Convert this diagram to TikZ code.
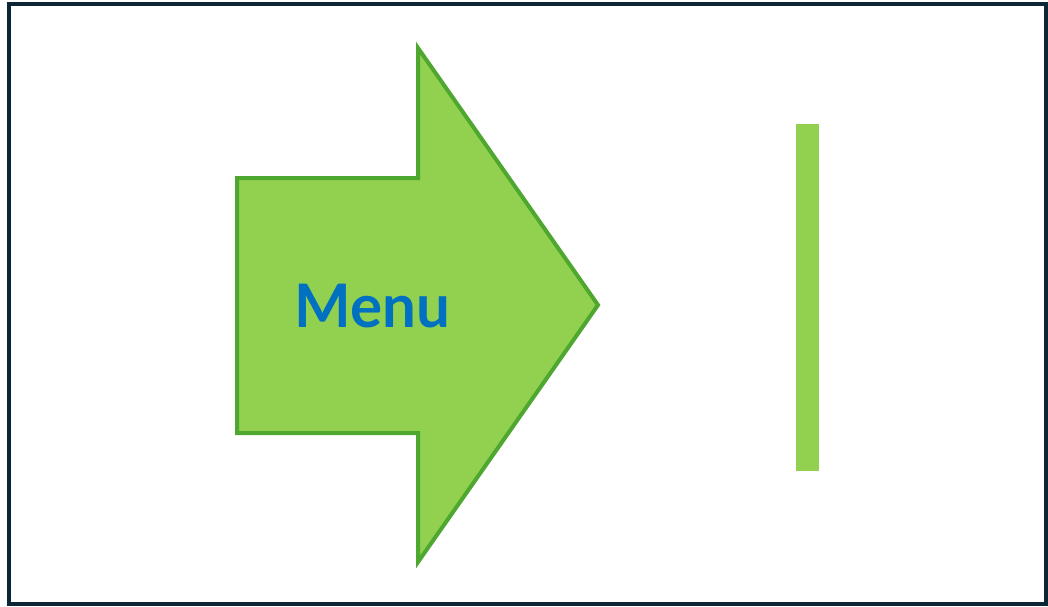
\documentclass[tikz,border=0pt]{standalone}
\usepackage{fontspec}
\newfontfamily\menufont{Lato}[UprightFont={* Bold}]
\definecolor{arrowfill}{HTML}{92D050}
\definecolor{arrowline}{HTML}{4EA72E}
\definecolor{textblue}{HTML}{0070C0}
\definecolor{frame}{HTML}{0C2636}
\tikzset{
  arrowshape/.style={fill=arrowfill, draw=arrowline, line width=4pt, line join=miter},
  barshape/.style={fill=arrowfill, draw=none},
  menutext/.style={text=textblue, font=\menufont\fontsize{60}{62}\selectfont, inner sep=0pt}
}
\begin{document}
\begin{tikzpicture}[x=1pt,y=-1pt]
\useasboundingbox (0,0) rectangle (1048,606);
\fill[white] (0,0) rectangle (1048,606);
\draw[frame, line width=3.5pt] (9,4) rectangle (1046,604);
\draw[arrowshape] (237,178) -- (418,178) -- (418,48) -- (598,305) -- (418,562) -- (418,433) -- (237,433) -- cycle;
\node[menutext] (menu) at (372.5,306) {Menu};
\fill[barshape] (796,124) rectangle (819,471);
\end{tikzpicture}
\end{document}
